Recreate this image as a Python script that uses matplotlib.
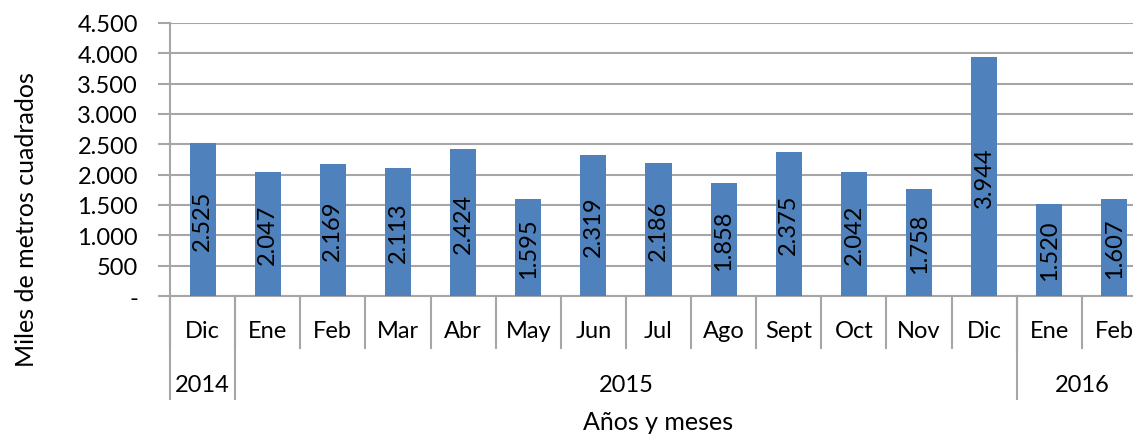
import matplotlib
matplotlib.use('Agg')
import matplotlib.pyplot as plt
from matplotlib.ticker import FuncFormatter
import numpy as np

months = ['Dic', 'Ene', 'Feb', 'Mar', 'Abr', 'May', 'Jun', 'Jul', 'Ago',
          'Sept', 'Oct', 'Nov', 'Dic', 'Ene', 'Feb']
values = [2525, 2047, 2169, 2113, 2424, 1595, 2319, 2186, 1858,
          2375, 2042, 1758, 3944, 1520, 1607]
years = ['2014', '2015', '2016']
year_counts = [1, 12, 2]

plt.rcParams['font.family'] = ['Lato', 'DejaVu Sans']
fs = 17
grid_c = '#a6a6a6'

fig = plt.figure(figsize=(11.33, 4.35), dpi=100)
ax = fig.add_axes([170/1133, 1-297/435, (1147-170)/1133, (297-24)/435])

x = np.arange(len(months))
bars = ax.bar(x, values, 0.4, color='#4f81bd', zorder=3)
for xi, v in zip(x, values):
    s = '{:,}'.format(v).replace(',', '.')
    ax.text(xi, v/2, s, rotation=90, ha='center', va='center', fontsize=fs, color='k', zorder=4)

ax.set_xlim(-0.5, len(months)-0.5)
ax.set_ylim(0, 4500)
ax.set_yticks(np.arange(0, 4501, 500))
ax.yaxis.set_major_formatter(FuncFormatter(lambda v, p: '-' if v == 0 else '{:,.0f}'.format(v).replace(',', '.')))
ax.grid(axis='y', color=grid_c, lw=1.5, zorder=0)
ax.tick_params(axis='y', length=9, width=1.5, color=grid_c, labelsize=fs, pad=14)
ax.set_xticks([])
for s in ['top', 'right']:
    ax.spines[s].set_visible(False)
ax.spines['left'].set_color(grid_c)
ax.spines['left'].set_linewidth(1.5)
ax.spines['bottom'].set_color(grid_c)
ax.spines['bottom'].set_linewidth(1.5)

# multi-level category axis
tr = ax.get_xaxis_transform()
row1 = -52/273
row2 = -103/273
bounds = np.cumsum([0] + year_counts) - 0.5
for b in np.arange(-0.5, len(months)):
    ax.plot([b, b], [0, row1], transform=tr, color=grid_c, lw=1.5, clip_on=False)
for b in bounds:
    ax.plot([b, b], [0, row2], transform=tr, color=grid_c, lw=1.5, clip_on=False)
for xi, m in zip(x, months):
    ax.text(xi, -34/273, m, transform=tr, ha='center', va='center', fontsize=fs)
for i, y in enumerate(years):
    ax.text((bounds[i]+bounds[i+1])/2, -88/273, y, transform=tr, ha='center', va='center', fontsize=fs)

fig.text(658/1133, 1-423/435, 'Años y meses', ha='center', va='center', fontsize=18)
fig.text(27/1133, 1-220/435, 'Miles de metros cuadrados', rotation=90, ha='center', va='center', fontsize=18)

fig.savefig('out.png', dpi=100)
